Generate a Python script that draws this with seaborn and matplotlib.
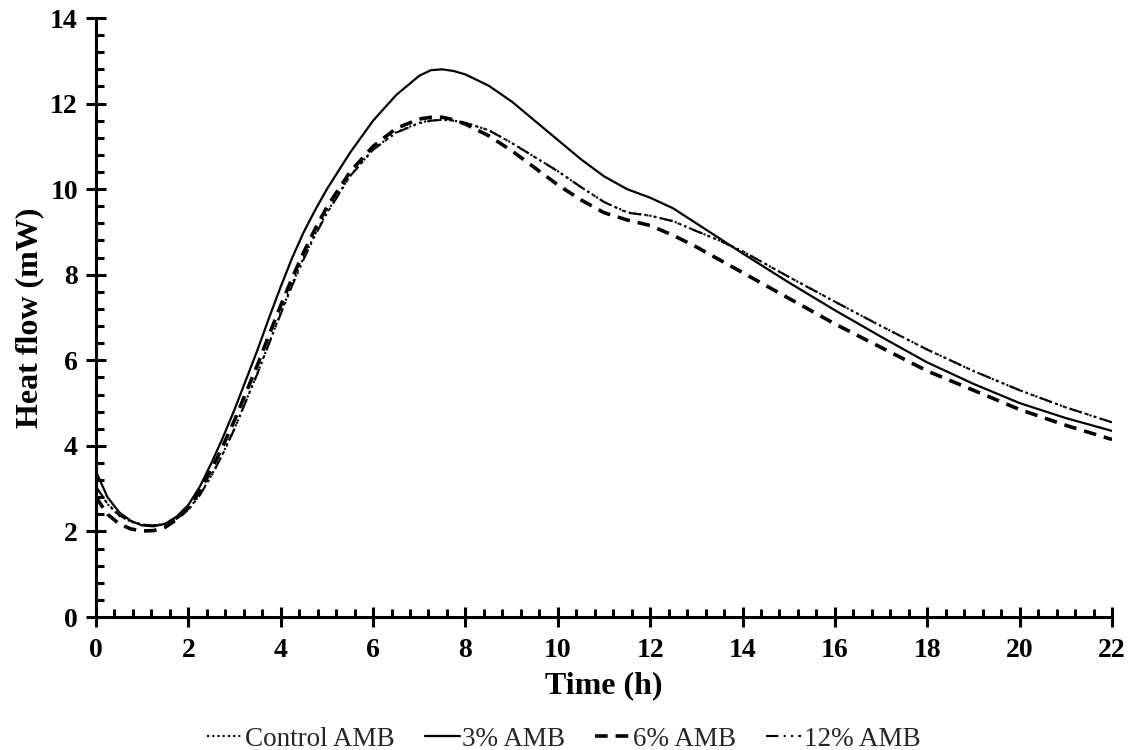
import matplotlib
matplotlib.use("Agg")
import matplotlib.pyplot as plt
import seaborn as sns
from matplotlib.ticker import MultipleLocator

sns.set_theme(style="white")
plt.rcParams['font.family'] = ['Liberation Serif', 'DejaVu Serif']

time_h = [0, 0.25, 0.5, 0.75, 1.0, 1.25, 1.5, 1.75, 2.0, 2.25, 2.5, 2.75, 3.0, 3.25, 3.5,
          3.75, 4.0, 4.25, 4.5, 4.75, 5.0, 5.5, 6.0, 6.5, 7.0, 7.25, 7.5, 7.75, 8.0, 8.5,
          9.0, 9.5, 10.0, 10.5, 11.0, 11.5, 12.0, 12.5, 13.0, 13.5, 14.0, 15, 16, 17, 18,
          19, 20, 21, 22]

control_amb = [3.04, 2.64, 2.37, 2.23, 2.16, 2.14, 2.18, 2.31, 2.51, 2.86, 3.31, 3.83, 4.41,
               5.06, 5.71, 6.41, 7.11, 7.79, 8.41, 8.96, 9.46, 10.31, 10.93, 11.33, 11.55,
               11.61, 11.62, 11.60, 11.55, 11.38, 11.08, 10.75, 10.42, 10.05, 9.70, 9.46,
               9.38, 9.25, 9.02, 8.80, 8.55, 7.95, 7.37, 6.80, 6.25, 5.75, 5.30, 4.90, 4.55]
amb_3 = [3.40, 2.80, 2.45, 2.25, 2.14, 2.12, 2.18, 2.35, 2.62, 3.05, 3.60, 4.20, 4.85,
         5.55, 6.25, 7.00, 7.72, 8.40, 9.00, 9.52, 10.00, 10.85, 11.60, 12.20, 12.65,
         12.78, 12.80, 12.76, 12.68, 12.42, 12.05, 11.60, 11.15, 10.70, 10.30, 10.00,
         9.80, 9.55, 9.20, 8.85, 8.50, 7.82, 7.17, 6.55, 5.95, 5.45, 5.00, 4.65, 4.35]
amb_6 = [2.80, 2.40, 2.18, 2.06, 2.01, 2.02, 2.10, 2.28, 2.55, 2.95, 3.45, 4.00, 4.60,
         5.25, 5.90, 6.60, 7.28, 7.93, 8.53, 9.08, 9.58, 10.40, 11.00, 11.42, 11.64,
         11.68, 11.68, 11.62, 11.52, 11.25, 10.90, 10.50, 10.10, 9.75, 9.45, 9.28,
         9.15, 8.92, 8.65, 8.35, 8.05, 7.45, 6.85, 6.30, 5.75, 5.30, 4.85, 4.48, 4.15]
amb_12 = [3.05, 2.65, 2.38, 2.24, 2.16, 2.14, 2.18, 2.30, 2.50, 2.85, 3.30, 3.82, 4.40,
          5.05, 5.70, 6.40, 7.08, 7.75, 8.37, 8.93, 9.43, 10.30, 10.92, 11.32, 11.54,
          11.60, 11.62, 11.60, 11.55, 11.38, 11.08, 10.75, 10.42, 10.05, 9.70, 9.45,
          9.38, 9.25, 9.02, 8.80, 8.55, 7.95, 7.37, 6.80, 6.25, 5.75, 5.30, 4.90, 4.55]

labels = ["Control AMB", "3% AMB", "6% AMB", "12% AMB"]

fig = plt.figure(figsize=(11.28, 7.5), dpi=100)
ax = fig.add_axes([0.0851, 0.1773, 0.9007, 0.7987])

styles = [
    dict(linestyle=(0, (1, 1.5)), linewidth=1.5),
    dict(linestyle='-', linewidth=1.6),
    dict(linestyle=(0, (3.5, 2.2)), linewidth=2.6),
    dict(linestyle=(0, (6, 2.5, 1, 2.5, 1, 2.5)), linewidth=1.5),
]
series = [control_amb, amb_3, amb_6, amb_12]
for vals, lab, st in zip(series, labels, styles):
    sns.lineplot(x=time_h, y=vals, ax=ax, color='black', label=lab, **st)

ax.set_xlim(0, 22)
ax.set_ylim(0, 14)
ax.xaxis.set_major_locator(MultipleLocator(2))
ax.xaxis.set_minor_locator(MultipleLocator(0.4))
ax.yaxis.set_major_locator(MultipleLocator(2))
ax.yaxis.set_minor_locator(MultipleLocator(0.4))

for s in ['top', 'right']:
    ax.spines[s].set_visible(False)
for s in ['left', 'bottom']:
    ax.spines[s].set_linewidth(2.2)
    ax.spines[s].set_color('black')

ax.tick_params(which='major', direction='inout', length=14, width=2.2, colors='black',
               labelsize=20, bottom=True, left=True)
ax.tick_params(axis='x', which='major', pad=8)
ax.tick_params(axis='y', which='major', pad=6)
ax.tick_params(which='minor', direction='in', length=6, width=2.2, colors='black',
               bottom=True, left=True)
for lbl in ax.get_xticklabels() + ax.get_yticklabels():
    lbl.set_fontweight('bold')

ax.set_xlabel("Time (h)", fontsize=23, fontweight='bold', color='black', labelpad=6)
ax.set_ylabel("Heat flow (mW)", fontsize=23, fontweight='bold', color='black', labelpad=4)
ax.grid(False)

ax.get_legend().remove()
handles, lbls = ax.get_legend_handles_labels()
fig.legend(handles, lbls, loc='lower center', bbox_to_anchor=(0.5, -0.035), ncol=4,
           frameon=False, fontsize=19.5, handlelength=1.3, handletextpad=0.1,
           columnspacing=1.1)

fig.savefig("out.png", dpi=100, facecolor='white')
